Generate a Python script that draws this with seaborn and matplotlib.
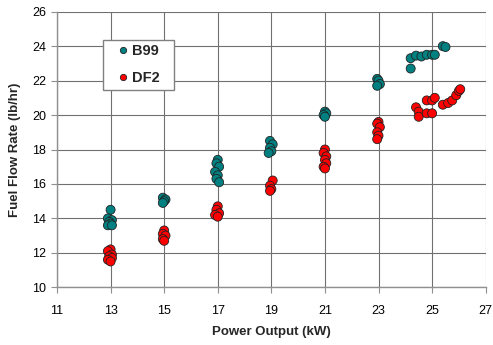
import matplotlib
matplotlib.use("Agg")
import matplotlib.pyplot as plt
import seaborn as sns
import pandas as pd

# B99 data
b99_power = [13.0, 12.9, 13.05, 12.95, 13.0, 12.9, 13.05,
             14.95, 15.05, 15.0, 14.95,
             17.0, 16.95, 17.05, 16.9, 17.0, 16.95, 17.05,
             18.95, 19.05, 18.95, 19.0, 18.9,
             21.0, 21.05, 20.95, 21.0,
             22.95, 23.0, 23.05, 22.95,
             24.2, 24.2, 24.4, 24.6, 24.8, 25.0, 25.1, 25.4, 25.5]
b99_flow = [14.5, 14.0, 13.9, 13.8, 13.7, 13.6, 13.6,
            15.2, 15.1, 15.0, 14.9,
            17.4, 17.2, 17.0, 16.7, 16.5, 16.3, 16.1,
            18.5, 18.3, 18.1, 17.9, 17.8,
            20.2, 20.1, 20.0, 19.9,
            22.1, 22.0, 21.8, 21.7,
            23.3, 22.7, 23.45, 23.4, 23.5, 23.5, 23.5, 24.0, 23.95]

# DF2 data
df2_power = [13.0, 12.9, 13.05, 12.95, 13.05, 12.9, 13.0,
             15.0, 14.95, 15.05, 14.95, 15.0,
             17.0, 16.95, 17.05, 16.9, 17.0,
             19.05, 18.95, 19.0, 18.95,
             21.0, 20.95, 21.05, 21.0, 21.05, 20.95, 21.0,
             23.0, 22.95, 23.05, 22.95, 23.0, 22.95,
             24.4, 24.5, 24.5, 24.8, 25.0, 25.1, 24.8, 25.0,
             25.4, 25.6, 25.75, 25.9, 26.0, 26.05]
df2_flow = [12.2, 12.1, 11.9, 11.8, 11.7, 11.6, 11.5,
            13.3, 13.1, 13.0, 12.8, 12.7,
            14.7, 14.5, 14.3, 14.2, 14.1,
            16.2, 15.9, 15.7, 15.6,
            18.0, 17.8, 17.6, 17.4, 17.2, 17.0, 16.9,
            19.6, 19.5, 19.3, 19.0, 18.8, 18.6,
            20.45, 20.2, 19.9, 20.85, 20.85, 21.0, 20.1, 20.1,
            20.6, 20.7, 20.85, 21.15, 21.4, 21.5]

x_ticks = [11, 13, 15, 17, 19, 21, 23, 25, 27]
y_ticks = [10, 12, 14, 16, 18, 20, 22, 24, 26]

df = pd.concat([
    pd.DataFrame({"Power": b99_power, "Flow": b99_flow, "Fuel": "B99"}),
    pd.DataFrame({"Power": df2_power, "Flow": df2_flow, "Fuel": "DF2"}),
], ignore_index=True)

sns.set_style("white")
plt.rcParams["font.family"] = ["Liberation Sans", "DejaVu Sans"]

fig = plt.figure(figsize=(4.93, 3.45), dpi=100)
ax = fig.add_axes([57 / 493, 1 - 287.3 / 345, (485.7 - 57) / 493, (287.3 - 11.7) / 345])

sns.scatterplot(data=df, x="Power", y="Flow", hue="Fuel",
                palette={"B99": "#008080", "DF2": "#FF0000"},
                s=42, edgecolor="#222222", linewidth=0.6, ax=ax, zorder=3)

ax.set_xlim(11, 27)
ax.set_ylim(10, 26)
ax.set_xticks(x_ticks)
ax.set_yticks(y_ticks)
ax.grid(True, color="#707070", linewidth=0.8)
ax.set_axisbelow(True)
for side in ["top", "right"]:
    ax.spines[side].set_visible(False)
for side in ["left", "bottom"]:
    ax.spines[side].set_color("#909090")
    ax.spines[side].set_linewidth(1.0)
ax.tick_params(axis="both", which="both", direction="out", length=4,
               color="#909090", labelsize=9, labelcolor="black", pad=4,
               bottom=True, left=True)
ax.tick_params(axis="x", pad=9)
ax.set_xlabel("Power Output (kW)", fontsize=9.5, fontweight="bold", labelpad=6)
ax.set_ylabel("Fuel Flow Rate (lb/hr)", fontsize=9.5, fontweight="bold", labelpad=8)

lx = (103.3 - 57) / 428.7
ly = 1 - (40 - 11.7) / 275.6
lw = 70.7 / 428.7
leg = ax.legend(loc="upper left", bbox_to_anchor=(lx, ly - 0.3, lw, 0.3),
                mode="expand", borderaxespad=0,
                frameon=True, fancybox=False, framealpha=1, edgecolor="#808080",
                fontsize=10.5, handletextpad=-0.37, labelspacing=0.89,
                borderpad=0.3, markerscale=0.7, handlelength=2.06)
for t in leg.get_texts():
    t.set_fontweight("bold")
leg.get_frame().set_linewidth(1.0)

fig.savefig("out.png", dpi=100)
